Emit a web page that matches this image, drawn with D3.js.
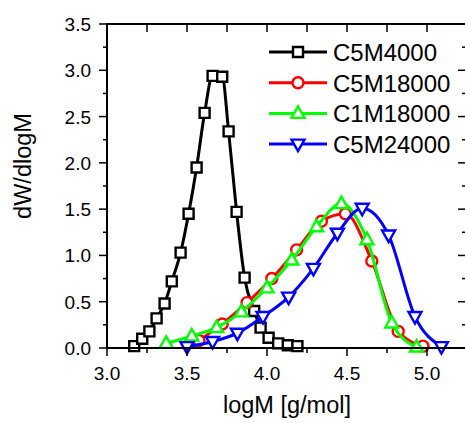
<!DOCTYPE html>
<html lang="en">
<head>
  <meta charset="UTF-8">
  <title>GPC distributions</title>
  <style>
    html, body {
      margin: 0;
      padding: 0;
      background-color: #fff;
    }

    svg {
      display: block;
      font-family: "Liberation Sans", Arial, sans-serif;
    }

    .frame {
      fill: none;
      stroke: #000;
      stroke-width: 2;
    }

    .tick {
      stroke: #000;
      stroke-width: 1.5;
    }

    .series-line {
      fill: none;
      stroke-width: 3;
    }

    .marker {
      fill: #fff;
      stroke-width: 2.4;
    }
  </style>
</head>
<body>
  <script src="https://d3js.org/d3.v7.min.js"></script>
  <script>
    // values
    const xTicks = [3.0, 3.5, 4.0, 4.5, 5.0]
    const yTicks = [0.0, 0.5, 1.0, 1.5, 2.0, 2.5, 3.0, 3.5]

    const c5m4000X = [3.17, 3.22, 3.265, 3.31, 3.36, 3.405, 3.46, 3.51, 3.56, 3.61, 3.66, 3.72, 3.76, 3.81, 3.86, 3.92, 3.96, 4.01, 4.07, 4.13, 4.19]
    const c5m4000Y = [0.02, 0.10, 0.18, 0.32, 0.48, 0.72, 1.03, 1.45, 1.95, 2.54, 2.94, 2.93, 2.34, 1.47, 0.76, 0.40, 0.22, 0.11, 0.05, 0.03, 0.02]

    const c5m18000X = [3.575, 3.72, 3.875, 4.03, 4.185, 4.34, 4.49, 4.655, 4.82, 4.975]
    const c5m18000Y = [0.08, 0.26, 0.49, 0.75, 1.06, 1.37, 1.45, 0.94, 0.18, 0.02]

    const c1m18000X = [3.37, 3.53, 3.685, 3.84, 4.0, 4.155, 4.31, 4.465, 4.625, 4.78, 4.935]
    const c1m18000Y = [0.05, 0.13, 0.22, 0.39, 0.65, 0.95, 1.31, 1.56, 1.17, 0.27, 0.01]

    const c5m24000X = [3.50, 3.66, 3.815, 3.975, 4.135, 4.29, 4.44, 4.595, 4.76, 4.925, 5.09]
    const c5m24000Y = [0.015, 0.07, 0.16, 0.34, 0.55, 0.86, 1.24, 1.51, 1.22, 0.34, 0.015]

    const seriesNames = ['C5M4000', 'C5M18000', 'C1M18000', 'C5M24000']
    const seriesColors = ['#000000', '#ff0000', '#00ff00', '#0000ff']
    const seriesSymbols = ['square', 'circle', 'triangleUp', 'triangleDown']

    const width = 465,
          height = 423,
          plotLeft = 107,
          plotRight = 467,
          plotTop = 24,
          plotBottom = 348

    const zip = (xs, ys) => xs.map((x, i) => ({ x, y: ys[i] }))
    const series = [
      zip(c5m4000X, c5m4000Y),
      zip(c5m18000X, c5m18000Y),
      zip(c1m18000X, c1m18000Y),
      zip(c5m24000X, c5m24000Y),
    ]

    const x = d3.scaleLinear().domain([3.0, 5.25]).range([plotLeft, plotRight])
    const y = d3.scaleLinear().domain([0, 3.5]).range([plotBottom, plotTop])

    const svg = d3.select('body')
      .append('svg')
      .attr('width', width)
      .attr('height', height)

    // marker shapes, drawn around (0,0)
    const circlePath = d3.path()
    circlePath.arc(0, 0, 5.5, 0, 2 * Math.PI)
    const symbolPath = {
      square: 'M-5,-5H5V5H-5Z',
      circle: circlePath.toString(),
      triangleUp: 'M0,-7L6.5,4.5L-6.5,4.5Z',
      triangleDown: 'M0,7L6.5,-4.5L-6.5,-4.5Z',
    }

    const line = d3.line()
      .x(d => x(d.x))
      .y(d => y(d.y))
      .curve(d3.curveMonotoneX)

    svg.append('clipPath')
      .attr('id', 'plot-clip')
      .append('rect')
      .attr('x', plotLeft)
      .attr('y', plotTop)
      .attr('width', plotRight - plotLeft)
      .attr('height', plotBottom - plotTop)

    series.forEach((data, i) => {
      const g = svg.append('g')

      g.append('path')
        .attr('class', 'series-line')
        .attr('clip-path', 'url(#plot-clip)')
        .attr('stroke', seriesColors[i])
        .attr('d', line(data))

      g.selectAll('path.marker')
        .data(data)
        .enter()
          .append('path')
          .attr('class', 'marker')
          .attr('stroke', seriesColors[i])
          .attr('transform', d => `translate(${x(d.x)},${y(d.y)})`)
          .attr('d', symbolPath[seriesSymbols[i]])
    })

    // frame + ticks (outward on left/bottom, inward on top/right)
    const xMinor = d3.range(3.0, 5.26, 0.25)
    const yMinor = d3.range(0, 3.51, 0.25)
    const isMajor = v => Math.abs(v * 2 - Math.round(v * 2)) < 1e-6

    const axes = svg.append('g')

    axes.selectAll('line.xb')
      .data(xMinor)
      .enter()
        .append('line')
        .attr('class', 'tick')
        .attr('x1', d => x(d)).attr('x2', d => x(d))
        .attr('y1', plotBottom).attr('y2', d => plotBottom + (isMajor(d) ? 8 : 5))

    axes.selectAll('line.xt')
      .data(xMinor)
      .enter()
        .append('line')
        .attr('class', 'tick')
        .attr('x1', d => x(d)).attr('x2', d => x(d))
        .attr('y1', plotTop).attr('y2', plotTop + 8)

    axes.selectAll('line.yl')
      .data(yMinor)
      .enter()
        .append('line')
        .attr('class', 'tick')
        .attr('y1', d => y(d)).attr('y2', d => y(d))
        .attr('x1', plotLeft).attr('x2', d => plotLeft - (isMajor(d) ? 8 : 4))

    axes.selectAll('line.yr')
      .data(yMinor)
      .enter()
        .append('line')
        .attr('class', 'tick')
        .attr('y1', d => y(d)).attr('y2', d => y(d))
        .attr('x1', plotRight).attr('x2', d => plotRight - (isMajor(d) ? 9 : 5))

    axes.append('rect')
      .attr('class', 'frame')
      .attr('x', plotLeft)
      .attr('y', plotTop)
      .attr('width', plotRight - plotLeft)
      .attr('height', plotBottom - plotTop)

    axes.selectAll('text.xl')
      .data(xTicks)
      .enter()
        .append('text')
        .attr('x', d => x(d))
        .attr('y', plotBottom + 32)
        .attr('text-anchor', 'middle')
        .attr('font-size', 19)
        .text(d => d.toFixed(1))

    axes.selectAll('text.yl')
      .data(yTicks)
      .enter()
        .append('text')
        .attr('x', plotLeft - 16)
        .attr('y', d => y(d) + 7)
        .attr('text-anchor', 'end')
        .attr('font-size', 19)
        .text(d => d.toFixed(1))

    svg.append('text')
      .attr('x', (plotLeft + plotRight) / 2)
      .attr('y', 413)
      .attr('text-anchor', 'middle')
      .attr('font-size', 23.5)
      .text('logM [g/mol]')

    svg.append('text')
      .attr('transform', 'translate(31,166) rotate(-90)')
      .attr('text-anchor', 'middle')
      .attr('font-size', 23.5)
      .text('dW/dlogM')

    // legend
    const legend = svg.append('g')
    seriesNames.forEach((name, i) => {
      const ly = 52 + i * 30.7
      legend.append('line')
        .attr('x1', 269).attr('x2', 327)
        .attr('y1', ly).attr('y2', ly)
        .attr('stroke', seriesColors[i])
        .attr('stroke-width', 3)
      legend.append('path')
        .attr('class', 'marker')
        .attr('stroke', seriesColors[i])
        .attr('transform', `translate(298,${ly})`)
        .attr('d', symbolPath[seriesSymbols[i]])
      legend.append('text')
        .attr('x', 333)
        .attr('y', ly + 9)
        .attr('font-size', 24)
        .text(name)
    })
  </script>
</body>
</html>
